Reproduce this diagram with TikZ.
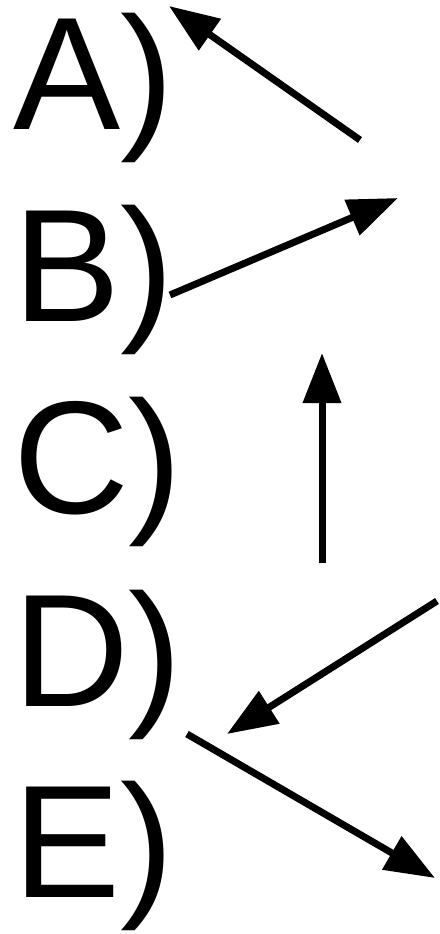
\documentclass[tikz,border=0pt]{standalone}
\usepackage{fontspec}
\setmainfont{Liberation Sans}
\usetikzlibrary{arrows.meta}
\begin{document}
\begin{tikzpicture}[x=1pt,y=-1pt,
  lab/.style={inner sep=0pt,outer sep=0pt,anchor=base west,font=\fontsize{160.6}{190}\selectfont},
  arr/.style={line width=7pt,-{Triangle[length=50pt,width=37pt]}}]
\useasboundingbox (0,0) rectangle (439,934);
\node[lab] (A) at (13,129) {A)};
\node[lab] (B) at (13,321) {B)};
\node[lab] (C) at (13,513) {C)};
\node[lab] (D) at (13,706) {D)};
\node[lab] (E) at (13,897) {E)};
\coordinate (a1) at (360,140); \coordinate (a2) at (169,6);
\coordinate (b1) at (170,295); \coordinate (b2) at (398,198);
\coordinate (c1) at (322,563); \coordinate (c2) at (322,353);
\coordinate (d1) at (437,601); \coordinate (d2) at (227,734);
\coordinate (e1) at (187,734); \coordinate (e2) at (435,878);
\draw[arr] (a1) -- (a2);
\draw[arr] (b1) -- (b2);
\draw[arr] (c1) -- (c2);
\draw[arr] (d1) -- (d2);
\draw[arr] (e1) -- (e2);
\end{tikzpicture}
\end{document}
